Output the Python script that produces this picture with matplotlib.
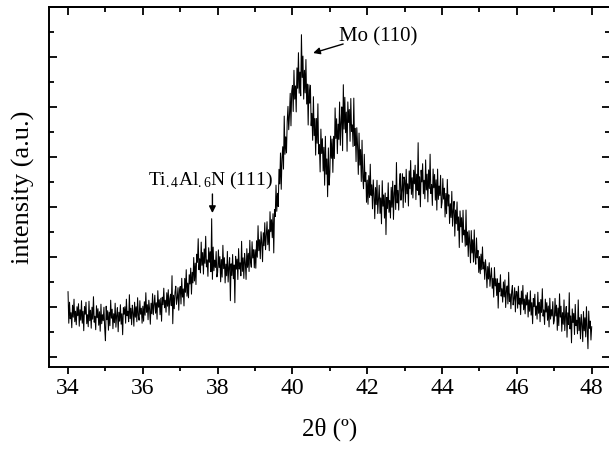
import numpy as np
import matplotlib
matplotlib.use('Agg')
import matplotlib.pyplot as plt

# XRD scan: 2theta from 34 to 48 deg, step 0.02 deg
scan_start = 34.0
scan_step = 0.02

# intensity (arb. counts), one list per degree
seg_34 = [1150, 835, 1045, 880, 940, 790, 1015, 895, 1075, 850,
          955, 820, 1000, 910, 1030, 805, 970, 865, 1060, 835,
          955, 760, 1000, 925, 1045, 830, 920, 800, 1055, 860,
          965, 785, 995, 875, 1100, 845, 905, 770, 1010, 890,
          980, 815, 950, 755, 1025, 830, 920, 860, 995, 785]
seg_35 = [660, 1005, 870, 960, 765, 945, 810, 1065, 885, 975,
          780, 930, 840, 1035, 795, 915, 990, 750, 945, 855,
          1020, 825, 930, 720, 990, 925, 1000, 835, 1075, 910,
          955, 850, 1120, 880, 985, 820, 1015, 940, 805, 1045,
          895, 1000, 850, 1090, 910, 865, 1060, 925, 985, 835]
seg_36 = [1005, 855, 1050, 915, 1140, 945, 1020, 870, 1065, 975,
          825, 1035, 930, 1130, 920, 1025, 1115, 935, 1040, 875,
          1160, 995, 1070, 920, 1085, 855, 1095, 1020, 1185, 990,
          1065, 945, 1140, 1005, 1170, 915, 1080, 1125, 1010, 1310,
          830, 1115, 980, 1145, 1205, 1025, 1085, 1190, 965, 1160]
seg_37 = [1202, 1027, 1284, 1096, 1178, 1008, 1283, 1144, 1370, 1105,
          1236, 1089, 1320, 1227, 1386, 1126, 1344, 1238, 1492, 1257,
          1436, 1222, 1525, 1445, 1680, 1370, 1480, 1338, 1646, 1414,
          1542, 1326, 1578, 1434, 1704, 1398, 1468, 1304, 1590, 1444,
          1550, 1350, 1880, 1274, 1596, 1360, 1466, 1392, 1552, 1298]
seg_38 = [1345, 1568, 1392, 1501, 1249, 1472, 1296, 1614, 1381, 1490,
          1238, 1426, 1309, 1553, 1247, 1397, 1490, 1060, 1429, 1313,
          1522, 1280, 1418, 1040, 1504, 1376, 1476, 1272, 1581, 1377,
          1439, 1309, 1654, 1353, 1489, 1283, 1533, 1441, 1273, 1580,
          1393, 1534, 1352, 1664, 1444, 1395, 1650, 1487, 1571, 1389]
seg_39 = [1570, 1385, 1660, 1495, 1810, 1560, 1670, 1480, 1750, 1640,
          1450, 1740, 1610, 1840, 1570, 1720, 1850, 1620, 1770, 1560,
          1950, 1750, 1870, 1690, 1930, 1538, 1972, 1902, 2216, 1954,
          2134, 2002, 2374, 2228, 2537, 2174, 2483, 2600, 2376, 2906,
          2524, 2699, 2538, 2852, 3003, 2770, 2916, 3134, 2809, 3156]
seg_40 = [3212, 2952, 3364, 3076, 3208, 2948, 3388, 3184, 3540, 3135,
          3346, 3109, 3720, 3292, 3506, 3076, 3364, 3138, 3472, 3027,
          3226, 2817, 3220, 3035, 3214, 2810, 2933, 2664, 3100, 2711,
          2882, 2516, 2883, 2634, 3029, 2528, 2620, 2348, 2776, 2532,
          2680, 2357, 2594, 2215, 2704, 2325, 2478, 2100, 2588, 2216]
seg_41 = [2340, 2706, 2484, 2677, 2343, 2704, 2482, 2988, 2682, 2880,
          2531, 2826, 2673, 3047, 2614, 2848, 2998, 2560, 3220, 2776,
          3094, 2740, 2946, 2554, 3048, 2842, 2972, 2654, 3082, 2754,
          2818, 2602, 3086, 2613, 2784, 2451, 2790, 2610, 2323, 2736,
          2416, 2572, 2252, 2665, 2294, 2180, 2524, 2252, 2344, 2044]
seg_42 = [2266, 2024, 2311, 2092, 2425, 2114, 2219, 1979, 2268, 2120,
          1880, 2192, 2021, 2264, 1932, 2083, 2215, 1933, 2088, 1829,
          2260, 2005, 2118, 1886, 2137, 1721, 2093, 1982, 2239, 1944,
          2063, 1887, 2194, 1995, 2256, 1873, 2136, 2215, 1972, 2442,
          2038, 2163, 1966, 2229, 2331, 2065, 2163, 2330, 1991, 2297]
seg_43 = [2267, 2044, 2374, 2129, 2229, 2007, 2358, 2180, 2462, 2123,
          2290, 2087, 2365, 2229, 2415, 2071, 2325, 2164, 2640, 2117,
          2300, 1999, 2365, 2248, 2430, 2129, 2265, 2079, 2468, 2167,
          2326, 2048, 2368, 2182, 2525, 2132, 2222, 2013, 2377, 2189,
          2323, 2066, 2269, 1966, 2376, 2073, 2207, 2111, 2314, 1988]
seg_44 = [2045, 2281, 2076, 2186, 1897, 2133, 1930, 2273, 2007, 2119,
          1832, 2030, 1892, 2153, 1805, 1961, 2054, 1706, 1967, 1829,
          2048, 1763, 1898, 1592, 1958, 1799, 1889, 1643, 1964, 1718,
          1766, 1604, 1967, 1616, 1748, 1502, 1761, 1642, 1439, 1761,
          1537, 1670, 1446, 1768, 1502, 1425, 1688, 1489, 1563, 1343]
seg_45 = [1502, 1330, 1526, 1370, 1598, 1378, 1446, 1274, 1470, 1362,
          1190, 1402, 1277, 1440, 1204, 1304, 1388, 1184, 1284, 1096,
          1392, 1208, 1280, 1112, 1280, 986, 1236, 1150, 1320, 1106,
          1180, 1046, 1248, 1098, 1268, 992, 1164, 1208, 1028, 1344,
          1052, 1128, 980, 1152, 1212, 1018, 1080, 1190, 948, 1154]
seg_46 = [1149, 985, 1205, 1025, 1085, 921, 1157, 1025, 1213, 969,
          1077, 929, 1117, 1017, 1141, 897, 1069, 954, 1159, 916,
          1041, 830, 1083, 1000, 1125, 914, 1007, 876, 1145, 934,
          1044, 850, 1072, 942, 1180, 906, 968, 822, 1076, 946,
          1041, 864, 1007, 798, 1085, 876, 971, 907, 1051, 827]
seg_47 = [860, 1083, 907, 1016, 764, 987, 811, 1129, 896, 1005,
          754, 941, 824, 1068, 761, 910, 1002, 695, 939, 822,
          1140, 778, 908, 639, 978, 842, 934, 722, 1023, 811,
          865, 729, 1068, 761, 891, 679, 923, 825, 651, 952,
          759, 890, 698, 1000, 770, 580, 956, 783, 857, 667]
last_point = [800]

intensity = np.array(seg_34 + seg_35 + seg_36 + seg_37 + seg_38 + seg_39 + seg_40
                     + seg_41 + seg_42 + seg_43 + seg_44 + seg_45 + seg_46 + seg_47
                     + last_point, dtype=float)
two_theta = scan_start + scan_step * np.arange(len(intensity))

x_major = [34, 36, 38, 40, 42, 44, 46, 48]
x_minor = [35, 37, 39, 41, 43, 45, 47]
y_major = [500, 1000, 1500, 2000, 2500, 3000, 3500, 4000]
y_minor = [750, 1250, 1750, 2250, 2750, 3250, 3750]

plt.rcParams['font.family'] = 'Liberation Serif'
plt.rcParams['mathtext.fontset'] = 'custom'
plt.rcParams['mathtext.rm'] = 'Liberation Serif'
plt.rcParams['mathtext.it'] = 'Liberation Serif:italic'

fig = plt.figure(figsize=(6.09, 4.5), dpi=100)
ax = fig.add_axes([0.081, 0.1844, 0.9213, 0.8007])

ax.plot(two_theta, intensity, color='black', lw=0.75)

ax.set_xlim(33.5, 48.5)
ax.set_ylim(397, 4000)
ax.set_xticks(x_major)
ax.set_xticks(x_minor, minor=True)
ax.set_yticks(y_major)
ax.set_yticks(y_minor, minor=True)
ax.set_yticklabels([])

for s in ax.spines.values():
    s.set_linewidth(1.4)

ax.tick_params(axis='x', which='both', direction='out', top=False, width=1.3,
               labelsize=17, pad=3)
ax.tick_params(axis='x', which='major', length=5)
ax.tick_params(axis='x', which='minor', length=3)
ax.tick_params(axis='y', which='both', direction='in', left=True, right=True, width=1.3)
ax.tick_params(axis='y', which='major', length=5.8)
ax.tick_params(axis='y', which='minor', length=3.4)

# top ticks point inward
top = ax.secondary_xaxis('top')
top.set_xticks(x_major)
top.set_xticks(x_minor, minor=True)
top.tick_params(which='both', direction='in', labeltop=False, width=1.3)
top.tick_params(which='major', length=6)
top.tick_params(which='minor', length=3.6)
top.spines['top'].set_linewidth(1.4)

ax.set_xlabel('2θ (º)', fontsize=18, labelpad=13)
ax.set_ylabel('intensity (a.u.)', fontsize=19, labelpad=7)

# peak labels
ax.annotate('', xy=(40.553, 3537), xytext=(41.355, 3627),
            arrowprops=dict(arrowstyle='-|>', color='black', lw=1,
                            mutation_scale=10, shrinkA=0, shrinkB=0))
ax.text(41.25, 3657, 'Mo (110)', fontsize=15, ha='left', va='baseline')

ax.text(37.80, 2217, r'Ti$_{\mathrm{.4}}$Al$_{\mathrm{.6}}$N (111)', fontsize=14,
        ha='center', va='baseline')
ax.annotate('', xy=(37.86, 1937), xytext=(37.86, 2127),
            arrowprops=dict(arrowstyle='-|>', color='black', lw=1,
                            mutation_scale=10, shrinkA=0, shrinkB=0))

fig.savefig('out.png', dpi=100)
